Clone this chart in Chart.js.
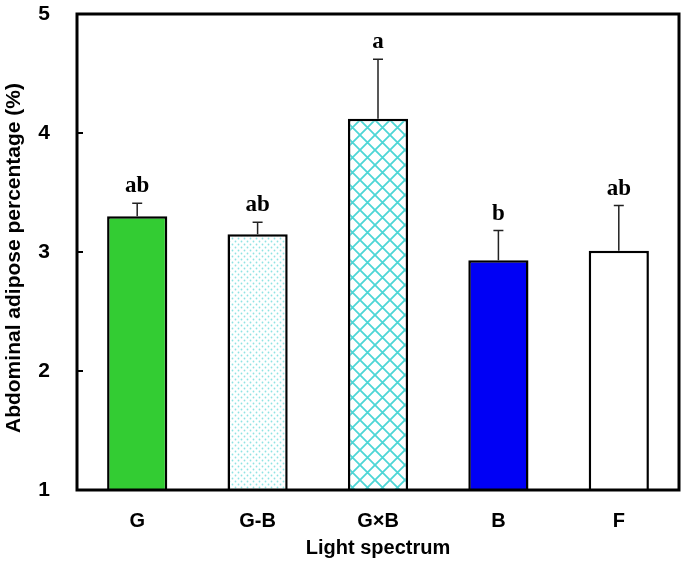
<!DOCTYPE html>
<html>
<head>
<meta charset="utf-8">
<script src="https://cdn.jsdelivr.net/npm/chart.js@4.4.1/dist/chart.umd.min.js"></script>
<style>
html,body{margin:0;padding:0;background:#fff;}
#wrap{width:685px;height:564px;}
</style>
</head>
<body>
<div id="wrap"><canvas id="c" width="685" height="564"></canvas></div>
<script>
const categories = ['G', 'G-B', 'G\u00d7B', 'B', 'F'];
const means = [3.30, 3.15, 4.12, 2.93, 3.01];
const sems = [0.11, 0.10, 0.50, 0.25, 0.38];
const letters = ['ab', 'ab', 'a', 'b', 'ab'];
const yTicks = [1, 2, 3, 4, 5];
const yTitle = 'Abdominal adipose percentage (%)';
const xTitle = 'Light spectrum';

function dotPattern() {
  const c = document.createElement('canvas');
  c.width = 6; c.height = 6;
  const g = c.getContext('2d');
  g.fillStyle = '#ffffff'; g.fillRect(0, 0, 6, 6);
  g.fillStyle = '#8fe3e3';
  g.beginPath(); g.arc(1.5, 1.5, 0.9, 0, Math.PI * 2); g.fill();
  g.beginPath(); g.arc(4.5, 4.5, 0.9, 0, Math.PI * 2); g.fill();
  return g.createPattern(c, 'repeat');
}
function crossPattern() {
  const s = 15;
  const c = document.createElement('canvas');
  c.width = s; c.height = s;
  const g = c.getContext('2d');
  g.fillStyle = '#ffffff'; g.fillRect(0, 0, s, s);
  g.strokeStyle = '#4dd6d6'; g.lineWidth = 1.8;
  g.beginPath();
  g.moveTo(-1, -1); g.lineTo(s + 1, s + 1);
  g.moveTo(s + 1, -1); g.lineTo(-1, s + 1);
  g.stroke();
  return g.createPattern(c, 'repeat');
}
const fills = ['#33cc33', dotPattern(), crossPattern(), '#0000f5', '#ffffff'];
const sans = '"Liberation Sans", Arial, sans-serif';

const decor = {
  id: 'decor',
  afterDatasetsDraw(chart) {
    const ctx = chart.ctx;
    const y = chart.scales.y;
    const meta = chart.getDatasetMeta(0);
    ctx.save();
    ctx.strokeStyle = '#222'; ctx.lineWidth = 1.5;
    meta.data.forEach((bar, i) => {
      const cx = bar.x;
      const yTop = y.getPixelForValue(means[i]);
      const yErr = y.getPixelForValue(means[i] + sems[i]);
      ctx.beginPath();
      ctx.moveTo(cx, yTop); ctx.lineTo(cx, yErr);
      ctx.moveTo(cx - 5, yErr); ctx.lineTo(cx + 5, yErr);
      ctx.stroke();
      ctx.fillStyle = '#000';
      ctx.font = 'bold 23px "Liberation Serif", "Times New Roman", serif';
      ctx.textAlign = 'center'; ctx.textBaseline = 'alphabetic';
      ctx.fillText(letters[i], cx, yErr - 11);
    });
    const a = chart.chartArea;
    ctx.strokeStyle = '#000'; ctx.lineWidth = 3;
    ctx.strokeRect(a.left, a.top, a.right - a.left, a.bottom - a.top);
    ctx.lineWidth = 2;
    yTicks.forEach(v => {
      const py = y.getPixelForValue(v);
      ctx.beginPath(); ctx.moveTo(a.left, py); ctx.lineTo(a.left + 6, py); ctx.stroke();
    });
    // y axis title
    ctx.translate(14, 258);
    ctx.rotate(-Math.PI / 2);
    ctx.fillStyle = '#000';
    ctx.font = 'bold 21px ' + sans;
    ctx.textAlign = 'center'; ctx.textBaseline = 'middle';
    ctx.fillText(yTitle, 0, 0);
    ctx.restore();
  }
};

new Chart(document.getElementById('c'), {
  type: 'bar',
  data: {
    labels: categories,
    datasets: [{
      data: means,
      backgroundColor: fills,
      borderColor: '#000',
      borderWidth: 2.5,
      borderSkipped: 'bottom',
      barPercentage: 0.5,
      categoryPercentage: 1.0
    }]
  },
  options: {
    responsive: false,
    animation: false,
    events: [],
    layout: { padding: { top: 14, right: 6, left: 0, bottom: 0 } },
    plugins: { legend: { display: false }, tooltip: { enabled: false } },
    scales: {
      x: {
        grid: { display: false, drawTicks: false },
        border: { display: false },
        ticks: { color: '#000', padding: 19, font: { family: sans, size: 20, weight: 'bold' } },
        title: { display: true, text: xTitle, color: '#000', padding: { top: 0, bottom: 4 }, font: { family: sans, size: 20, weight: 'bold' } },
        afterFit(s) { s.height = 74; s.paddingLeft = 0; s.paddingRight = 0; }
      },
      y: {
        min: 1, max: 5,
        grid: { display: false, drawTicks: false },
        border: { display: false },
        ticks: { stepSize: 1, color: '#000', padding: 27, font: { family: sans, size: 21, weight: 'bold' } },
        title: { display: false },
        afterFit(s) { s.width = 77; s.paddingTop = 0; s.paddingBottom = 0; }
      }
    }
  },
  plugins: [decor]
});
</script>
</body>
</html>
